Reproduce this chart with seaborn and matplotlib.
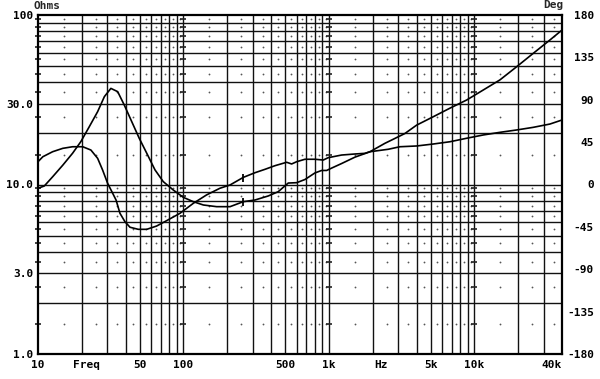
import numpy as np
import pandas as pd
import matplotlib
matplotlib.use("Agg")
import matplotlib.pyplot as plt
import seaborn as sns

# ---------------- data ----------------
imp_freq = [10, 11.05, 12.6, 14.8, 17.3, 19.7, 22.5, 25.7, 28.6, 31.7, 35.3, 39.2,
            43.6, 49.7, 55.9, 63.7, 72.6, 85.1, 99.7, 116.8, 137, 169, 209, 258,
            310, 383, 448, 525, 600, 684, 801, 891, 964, 1044, 1223, 1509, 1913,
            2426, 2842, 3330, 4006, 5210, 6785, 8838, 11500, 14970, 19500, 25370,
            33030, 40000]
imp_ohms = [9.50, 9.80, 11.1, 13.0, 15.3, 17.9, 21.9, 26.9, 33.0, 36.9, 35.3, 29.4,
            24.0, 18.7, 15.3, 12.2, 10.4, 9.28, 8.40, 7.92, 7.57, 7.40, 7.40, 7.92,
            8.10, 8.56, 9.07, 10.2, 10.25, 10.7, 11.7, 12.1, 12.1, 12.5, 13.3, 14.5, 15.6,
            17.5, 18.7, 20.0, 22.4, 25.1, 28.2, 31.5, 36.1, 41.4, 49.5, 59.4,
            71.2, 81.5]

ph_freq = [10, 10.8, 12.6, 14.8, 17.3, 20.3, 23.1, 25.7, 27.8, 30.1, 32.6, 34.4,
           36.6, 39.6, 42.9, 48.9, 55.9, 65.4, 76.6, 94.6, 116.8, 144, 178, 209,
           258, 310, 363, 426, 512, 554, 600, 684, 801, 914, 989, 1223, 1509, 1768,
           1913, 2556, 3076, 4006, 5210, 6785, 8838, 11500, 14970, 19500, 25370,
           33030, 40000]
ph_deg = [24.2, 29.5, 34.8, 38.4, 40.1, 40.1, 36.6, 27.8, 15.4, 1.3, -9.3, -16.5,
          -30.6, -39.5, -45.4, -47.6, -47.6, -44.1, -38.4, -30.6, -20.0, -11.1, -4.0, -0.5,
          7.6, 12.5, 16.1, 20.0, 23.6, 21.8, 24.2, 26.8, 26.8, 26.0, 28.5, 31.3, 32.4, 33.1,
          34.8, 37.4, 40.1, 40.9, 43.0, 45.4, 49.1, 52.6, 55.4, 57.9, 60.7,
          64.2, 68.5]

cursor_freq = 255

x_ticks = [10, 21.6, 50, 100, 500, 1000, 2275, 5000, 10000, 40000]
x_labels = ["10", "Freq", "50", "100", "500", "1k", "Hz", "5k", "10k", "40k"]
y_ticks = [1, 3, 10, 30, 100]
y_labels = ["1.0", "3.0", "10.0", "30.0", "100"]
deg_ticks = [-180, -135, -90, -45, 0, 45, 90, 135, 180]
deg_labels = ["-180", "-135", "-90", "-45", "0", "45", "90", "135", "180"]

# ---------------- style ----------------
sns.set_theme(style="white")
plt.rcParams["font.family"] = ["DejaVu Sans Mono", "DejaVu Sans"]
plt.rcParams["font.weight"] = "bold"
FS = 8

fig = plt.figure(figsize=(6.0, 3.79), dpi=100)
ax = fig.add_axes([38 / 600, 1 - 354 / 379, 524 / 600, 339 / 379])
ax.set_facecolor("white")
ax.set_xscale("log")
ax.set_yscale("log")
ax.set_xlim(10, 40000)
ax.set_ylim(1, 100)

# grid lines
gcol = "#111111"
vlines = [d * m for d in (10, 100, 1000, 10000) for m in range(1, 10)]
vlines = [v for v in vlines if 10 < v < 40000]
hlines = [d * m for d in (1, 10) for m in range(1, 10)]
hlines = [h for h in hlines if 1 < h < 100]
for v in vlines:
    ax.axvline(v, color=gcol, lw=1.0, zorder=1)
for h in hlines:
    ax.axhline(h, color=gcol, lw=1.0, zorder=1)

# dot grid
dot_f = [d * (m + 0.5) for d in (10, 100, 1000, 10000) for m in range(1, 10)]
dot_f = [f for f in dot_f if f < 40000]
dot_z = [d * (m + 0.5) for d in (1, 10) for m in range(1, 10)]
dot_z = [z for z in dot_z if z < 100]
FF, ZZ = np.meshgrid(dot_f, dot_z)
ax.plot(FF.ravel(), ZZ.ravel(), ls="none", marker="o", ms=1.3, mec="none",
        mfc="#555555", zorder=2)
dash_f = [10, 100, 1000, 10000]
DF, DZ = np.meshgrid(dash_f, dot_z)
ax.plot(DF.ravel(), DZ.ravel(), ls="none", marker="_", ms=5, mew=1.2,
        color="#222222", zorder=2, clip_on=False)

# impedance curve
imp_df = pd.DataFrame({"freq": imp_freq, "ohms": imp_ohms})
sns.lineplot(data=imp_df, x="freq", y="ohms", ax=ax, color="black", lw=1.2,
             sort=False, zorder=5)

for sp in ax.spines.values():
    sp.set_color("black")
    sp.set_linewidth(1.6)
    sp.set_zorder(6)

# phase curve on twin axis
ax2 = ax.twinx()
ph_df = pd.DataFrame({"freq": ph_freq, "deg": ph_deg})
sns.lineplot(data=ph_df, x="freq", y="deg", ax=ax2, color="black", lw=1.2,
             sort=False, zorder=5)
ax2.set_ylim(-180, 180)
ax2.set_ylabel("")
ax2.set_xlabel("")
ax2.set_yticks(deg_ticks)
ax2.set_yticklabels(deg_labels)
ax2.tick_params(axis="y", length=0, pad=23, labelsize=FS, colors="black")
for lab in ax2.get_yticklabels():
    lab.set_horizontalalignment("right")
    lab.set_fontweight("bold")
for sp in ax2.spines.values():
    sp.set_visible(False)

# cursor marks
lf = np.log10(cursor_freq)
cz = 10 ** np.interp(lf, np.log10(imp_freq), np.log10(imp_ohms))
cp = np.interp(lf, np.log10(ph_freq), ph_deg)
ax.plot([cursor_freq], [cz], marker="|", ms=6, mew=1.3, color="black", zorder=7)
ax2.plot([cursor_freq], [cp], marker="|", ms=6, mew=1.3, color="black", zorder=7)

# ticks on the main axis (set after twinx so they stick)
ax.set_xlim(10, 40000)
ax.set_xlabel("")
ax.set_ylabel("")
ax.xaxis.set_major_locator(matplotlib.ticker.FixedLocator(x_ticks))
ax.xaxis.set_major_formatter(matplotlib.ticker.FixedFormatter(x_labels))
ax.xaxis.set_minor_locator(matplotlib.ticker.NullLocator())
ax.yaxis.set_major_locator(matplotlib.ticker.FixedLocator(y_ticks))
ax.yaxis.set_major_formatter(matplotlib.ticker.FixedFormatter(y_labels))
ax.yaxis.set_minor_locator(matplotlib.ticker.NullLocator())
ax.tick_params(axis="x", length=0, pad=4, labelsize=FS, colors="black")
ax.tick_params(axis="y", length=0, pad=3.5, labelsize=FS, colors="black")
ax2.xaxis.set_visible(False)

fig.canvas.draw()
for lab in ax.get_xticklabels() + ax.get_yticklabels():
    lab.set_fontweight("bold")
xl = ax.get_xticklabels()
xl[-1].set_horizontalalignment("right")

fig.text(33 / 600, 1 - 6.3 / 379, "Ohms", fontsize=FS, fontweight="bold",
         va="center", ha="left")
fig.text(543 / 600, 1 - 5.5 / 379, "Deg", fontsize=FS, fontweight="bold",
         va="center", ha="left")

fig.savefig("out.png", dpi=100, facecolor="white")
